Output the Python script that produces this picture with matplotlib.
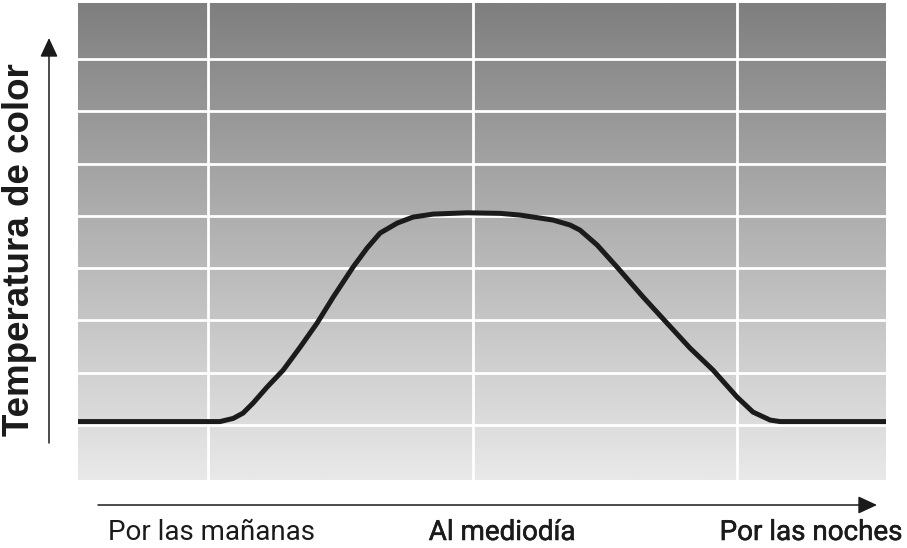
import numpy as np
import matplotlib
matplotlib.use("Agg")
import matplotlib.pyplot as plt
import matplotlib.patheffects as pe

# curve (x: time of day, y: colour temperature, grid units)
time_x = [0.508, 0.970, 1.045, 1.095, 1.132, 1.170, 1.223, 1.284, 1.348, 1.412,
          1.473, 1.548, 1.601, 1.650, 1.715, 1.775, 1.851, 1.979, 2.104, 2.180,
          2.304, 2.369, 2.406, 2.471, 2.546, 2.645, 2.735, 2.822, 2.909, 3.000,
          3.060, 3.125, 3.163, 3.563]
temp_y = [1.067, 1.067, 1.067, 1.128, 1.229, 1.421, 1.727, 2.052, 2.491, 2.950,
          3.447, 4.021, 4.384, 4.671, 4.862, 4.977, 5.034, 5.059, 5.048, 5.015,
          4.920, 4.824, 4.728, 4.442, 4.021, 3.447, 2.950, 2.472, 2.052, 1.535,
          1.249, 1.096, 1.067, 1.067]

x_grid = [1, 2, 3]
y_grid = [1, 2, 3, 4, 5, 6, 7, 8]

y_label = "Temperatura de color"
time_labels = ["Por las mañanas", "Al mediodía", "Por las noches"]

fig = plt.figure(figsize=(9.07, 5.48), dpi=100)
ax = fig.add_axes([78 / 907, 68 / 548, 808 / 907, 477 / 548])

# grey gradient background, dark at the top
grad = np.linspace(0, 1, 256).reshape(-1, 1)
ax.imshow(grad, cmap=matplotlib.colors.LinearSegmentedColormap.from_list(
              "g", ["#e9e9e9", "#7f7f7f"]),
          extent=[0, 1, 0, 1], transform=ax.transAxes, aspect="auto",
          origin="lower", zorder=0)

for v in x_grid:
    ax.axvline(v, color="white", lw=2.0, zorder=1)
for h in y_grid:
    ax.axhline(h, color="white", lw=2.0, zorder=1)

ax.plot(time_x, temp_y, color="#1b1b1b", lw=3.6, solid_joinstyle="round",
        solid_capstyle="butt", zorder=3)

ax.set_xlim(0.508, 3.563)
ax.set_ylim(-0.05, 9.07)
ax.set_xticks([])
ax.set_yticks([])
for s in ax.spines.values():
    s.set_visible(False)

# axis arrows
arrow = dict(arrowstyle="-|>,head_length=0.58,head_width=0.27",
             color="#1b1b1b", lw=1.1, mutation_scale=20, shrinkA=0, shrinkB=0)
ax.annotate("", xy=(49 / 907, 1 - 38 / 548), xytext=(49 / 907, 1 - 443 / 548),
            xycoords="figure fraction", textcoords="figure fraction",
            arrowprops=arrow, annotation_clip=False)
ax.annotate("", xy=(877 / 907, 1 - 505 / 548), xytext=(98 / 907, 1 - 505 / 548),
            xycoords="figure fraction", textcoords="figure fraction",
            arrowprops=arrow, annotation_clip=False)

fig.text(20 / 907, 1 - 250 / 548, y_label, rotation=90, ha="center", va="center",
         fontsize=26.5, fontweight="bold", family="Liberation Sans", color="#1b1b1b")

# medium weight: regular glyphs with a thin outline
medium = [pe.withStroke(linewidth=0.4, foreground="#1b1b1b")]
fig.text(108 / 907, 1 - 540 / 548, time_labels[0], ha="left", va="baseline",
         fontsize=20, family="Roboto", color="#1b1b1b")
fig.text(502 / 907, 1 - 540 / 548, time_labels[1], ha="center", va="baseline",
         fontsize=20, family="Roboto", color="#1b1b1b", path_effects=medium)
fig.text(902 / 907, 1 - 540 / 548, time_labels[2], ha="right", va="baseline",
         fontsize=20, family="Roboto", color="#1b1b1b", path_effects=medium)

fig.savefig("out.png", dpi=100)
